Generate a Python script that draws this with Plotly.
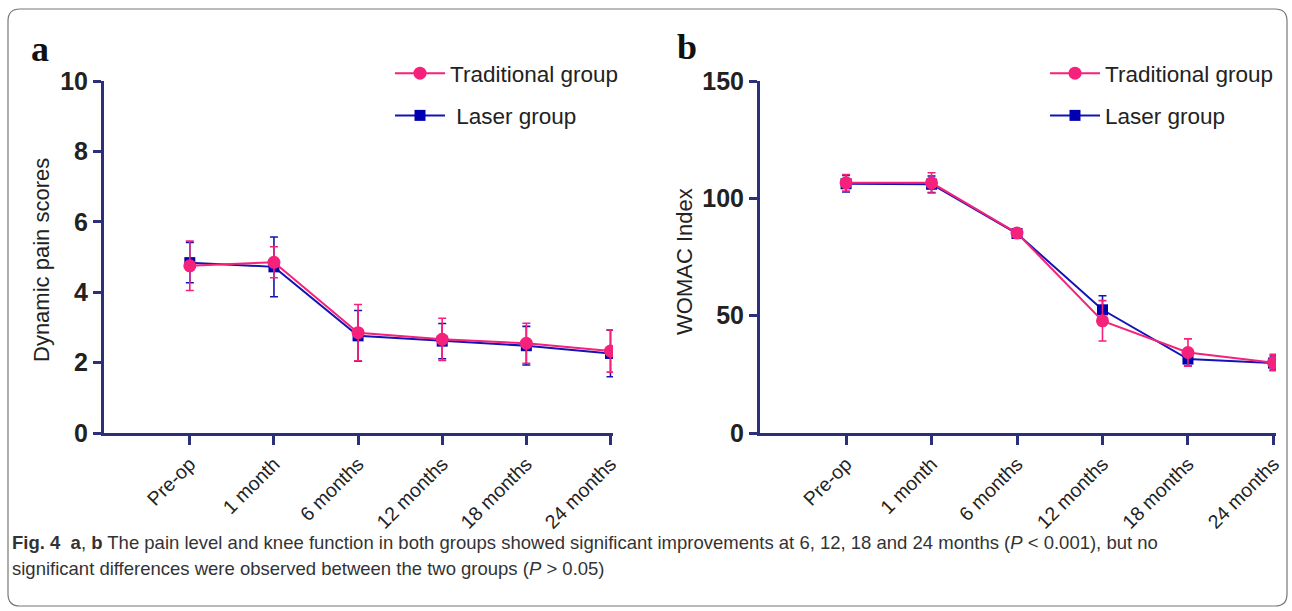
import plotly.graph_objects as go

categories = ["Pre-op", "1 month", "6 months", "12 months", "18 months", "24 months"]

# Panel a: Dynamic pain scores
pain_trad = [4.75, 4.85, 2.85, 2.66, 2.55, 2.33]
pain_trad_err = [0.70, 0.44, 0.80, 0.60, 0.57, 0.60]
pain_laser = [4.84, 4.72, 2.76, 2.61, 2.48, 2.26]
pain_laser_err = [0.57, 0.85, 0.72, 0.50, 0.55, 0.66]

# Panel b: WOMAC Index
womac_trad = [106.6, 106.6, 85.2, 47.8, 34.3, 30.0]
womac_trad_err = [3.5, 4.3, 1.5, 8.6, 5.8, 3.5]
womac_laser = [106.2, 106.0, 85.0, 52.5, 31.5, 29.8]
womac_laser_err = [3.5, 3.5, 1.5, 6.0, 3.0, 3.0]

PINK = "#F5217A"
BLUE = "#1414B4"
AXIS = "#2C3079"
xs = list(range(len(categories)))

fig = go.Figure()

def add_pair(xa, ya, legend, trad, trad_err, laser, laser_err, laser_name):
    fig.add_trace(go.Scatter(
        x=xs, y=laser, xaxis=xa, yaxis=ya, name=laser_name, legend=legend,
        legendrank=2, legendgroup=legend + "l",
        mode="lines+markers",
        line=dict(color=BLUE, width=2),
        marker=dict(symbol="square", size=11, color="#0000B0"),
        error_y=dict(type="data", array=laser_err, color=BLUE, thickness=1.6, width=4),
    ))
    fig.add_trace(go.Scatter(
        x=xs, y=trad, xaxis=xa, yaxis=ya, name="Traditional group", legend=legend,
        legendrank=1, legendgroup=legend + "t",
        mode="lines+markers",
        line=dict(color=PINK, width=2),
        marker=dict(symbol="circle", size=13, color=PINK),
        error_y=dict(type="data", array=trad_err, color=PINK, thickness=1.6, width=4),
    ))

add_pair("x", "y", "legend", pain_trad, pain_trad_err, pain_laser, pain_laser_err, " Laser group")
add_pair("x2", "y2", "legend2", womac_trad, womac_trad_err, womac_laser, womac_laser_err, "Laser group")

W, H = 1292, 611
ydom = [1 - 433 / H, 1 - 81 / H]

tickfont_y = dict(family="Liberation Sans, Arial, sans-serif", size=25, color="#222222", weight="bold")
tickfont_x = dict(family="Liberation Sans, Arial, sans-serif", size=19.5, color="#222222")

common_x = dict(
    tickmode="array", tickvals=xs, ticktext=categories, tickangle=-45,
    showline=True, linecolor=AXIS, linewidth=3, ticks="outside", tickcolor=AXIS,
    tickwidth=3, ticklen=9, showgrid=False, zeroline=False, tickfont=tickfont_x,
)
common_y = dict(
    showline=True, linecolor=AXIS, linewidth=3, ticks="outside", tickcolor=AXIS,
    tickwidth=3, ticklen=8, showgrid=False, zeroline=False, tickfont=tickfont_y,
    domain=ydom,
)

legfont = dict(family="Liberation Sans, Arial, sans-serif", size=22.5, color="#222222")

fig.update_layout(
    width=W, height=H,
    margin=dict(l=0, r=0, t=0, b=0, autoexpand=False),
    paper_bgcolor="white", plot_bgcolor="white",
    xaxis=dict(common_x, domain=[104 / W, 613 / W], range=[-1.02, 5.03], anchor="y"),
    yaxis=dict(common_y, range=[0, 10], tickvals=[0, 2, 4, 6, 8, 10], anchor="x"),
    xaxis2=dict(common_x, domain=[760 / W, 1276 / W], range=[-1.007, 5.03], anchor="y2"),
    yaxis2=dict(common_y, range=[0, 150], tickvals=[0, 50, 100, 150], anchor="x2"),
    legend=dict(x=390 / W, y=1 - 52 / H, xanchor="left", yanchor="top", font=legfont,
                bgcolor="rgba(0,0,0,0)", itemwidth=50, tracegroupgap=10, traceorder="grouped"),
    legend2=dict(x=1045 / W, y=1 - 52 / H, xanchor="left", yanchor="top", font=legfont,
                 bgcolor="rgba(0,0,0,0)", itemwidth=50, tracegroupgap=10, traceorder="grouped"),
    showlegend=True,
)

# Border (rounded rectangle), built in pixels then converted to paper coords
r = 12
x0, y0, x1, y1 = 8, 9, 1287, 606
path = (f"M {x0+r},{y0} L {x1-r},{y0} Q {x1},{y0} {x1},{y0+r} L {x1},{y1-r} Q {x1},{y1} {x1-r},{y1} "
        f"L {x0+r},{y1} Q {x0},{y1} {x0},{y1-r} L {x0},{y0+r} Q {x0},{y0} {x0+r},{y0} Z")
def px_path(p):
    out = []
    for tok in p.split(" "):
        if "," in tok:
            a, b = tok.split(",")
            out.append(f"{float(a)/W:.5f},{1-float(b)/H:.5f}")
        else:
            out.append(tok)
    return " ".join(out)
fig.add_shape(type="path", xref="paper", yref="paper", path=px_path(path),
              line=dict(color="#777777", width=1.2))

annots = [
    dict(text="a", x=40 / W, y=1 - 49 / H, font=dict(family="Liberation Serif, Times New Roman, serif", size=36, color="#111111", weight="bold")),
    dict(text="b", x=687 / W, y=1 - 47 / H, font=dict(family="Liberation Serif, Times New Roman, serif", size=36, color="#111111", weight="bold")),
    dict(text="Dynamic pain scores", x=42 / W, y=1 - 260 / H, textangle=-90,
         font=dict(family="Liberation Sans, Arial, sans-serif", size=22, color="#222222")),
    dict(text="WOMAC Index", x=684 / W, y=1 - 262 / H, textangle=-90,
         font=dict(family="Liberation Sans, Arial, sans-serif", size=22, color="#222222")),
]
for a in annots:
    fig.add_annotation(xref="paper", yref="paper", showarrow=False, xanchor="center", yanchor="middle", **a)

cap_font = dict(family="Liberation Sans, Arial, sans-serif", size=18.5, color="#333333")
fig.add_annotation(xref="paper", yref="paper", showarrow=False, xanchor="left", yanchor="middle",
                   x=10 / W, y=1 - 542 / H, font=cap_font, align="left",
                   text="<b>Fig. 4</b>  <b>a</b>, <b>b</b> The pain level and knee function in both groups showed significant improvements at 6, 12, 18 and 24 months (<i>P</i> &lt; 0.001), but no")
fig.add_annotation(xref="paper", yref="paper", showarrow=False, xanchor="left", yanchor="middle",
                   x=10 / W, y=1 - 568 / H, font=cap_font, align="left",
                   text="significant differences were observed between the two groups (<i>P</i> &gt; 0.05)")

fig.write_html("out.html")
